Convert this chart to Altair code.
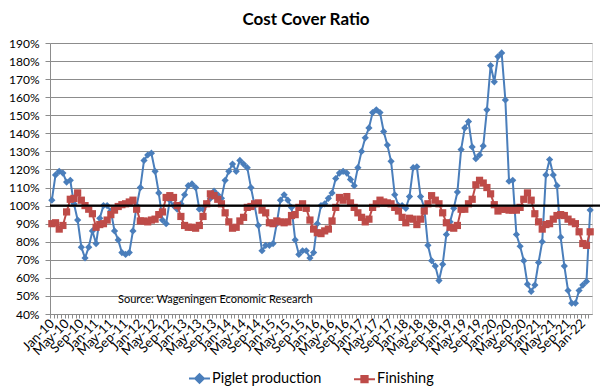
import altair as alt
import pandas as pd

series_names = ["Piglet production", "Finishing"]

piglet = [103, 117, 119, 118, 113, 114, 101, 92, 77, 71,
          77, 86, 79, 93, 100, 100, 97, 86, 81, 74,
          73, 74, 86, 100, 110, 125, 128, 129, 119, 107,
          92, 90, 103, 100, 98, 101, 106, 111, 112, 110,
          98, 98, 101, 104, 108, 106, 104, 114, 119, 123,
          119, 125, 123, 121, 110, 100, 89, 75, 78, 78,
          79, 90, 103, 106, 103, 99, 81, 73, 75, 75,
          71, 74, 90, 100, 101, 104, 107, 115, 118, 119,
          118, 114.5, 111, 121, 130, 137.5, 143, 151.5, 153, 151.5,
          141, 133.5, 124.5, 106, 100, 100, 98.5, 105, 121, 121.5,
          105, 99, 78, 69.5, 66.5, 58.5, 67.5, 84, 91, 98.5,
          107.5, 131, 143, 146.5, 132.5, 126, 128, 133, 153, 177.5,
          168.5, 182.5, 184.5, 158.5, 113.5, 114, 84, 77.5, 69.5, 56.5,
          52.5, 56, 68.5, 80, 117, 125.5, 117, 111, 82.5, 66.5,
          53, 46, 46, 53, 56, 58, 97.5]

finishing = [90, 90.5, 87, 89, 96.5, 103.5, 104, 107, 103, 100,
             98, 95.5, 88, 89.5, 90, 92, 95, 97.5, 99.5, 100.5,
             101, 102, 103, 98, 91.5, 91.5, 91, 92, 92.5, 95,
             96.5, 104.5, 105.5, 104.5, 100, 94, 89, 88, 88, 87.5,
             89, 94, 101, 106.5, 105.5, 103.5, 101, 96, 91, 87.5,
             88, 91.5, 93.5, 99, 99.5, 101, 101.5, 97.5, 96, 90.5,
             90, 91.5, 91, 90.5, 91, 94.5, 95, 99, 101, 98.5,
             92, 87, 85, 84.5, 86, 87, 91.5, 99, 104.5, 103,
             105, 101.5, 99, 96, 93.5, 91, 92.5, 99, 101, 103,
             102, 101.5, 101, 99, 97, 93.5, 90.5, 93, 92.5, 89.5,
             92.5, 97, 101, 105.5, 103, 101, 96, 90.5, 88, 87.5,
             89, 98, 98, 101, 103.5, 111.5, 114, 112.5, 110, 106.5,
             100.5, 97, 98, 98, 97.5, 97.5, 97.5, 99, 103.5, 107,
             103, 95.5, 91, 87, 89.5, 90, 92.5, 94.5, 95, 94.5,
             92.5, 91, 90, 85.5, 79, 78, 85.5]

tick_labels = ["Jan-10", "May-10", "Sep-10", "Jan-11", "May-11", "Sep-11",
               "Jan-12", "May-12", "Sep-12", "Jan-13", "May-13", "Sep-13",
               "Jan-14", "May-14", "Sep-14", "Jan-15", "May-15", "Sep-15",
               "Jan-16", "May-16", "Sep-16", "Jan-17", "May-17", "Sep-17",
               "Jan-18", "May-18", "Sep-18", "Jan-19", "May-19", "Sep-19",
               "Jan-20", "May-20", "Sep-20", "Jan-21", "May-21", "Sep-21",
               "Jan-22"]

y_ticks = [40, 50, 60, 70, 80, 90, 100, 110, 120, 130, 140, 150, 160, 170, 180, 190]
ref_level = 100
source_text = "Source: Wageningen Economic Research"

BLUE = "#4A7EBB"
RED = "#BE4B48"
GRAY = "#8C8C8C"
FONT = "Lato"

n = len(piglet)
df = pd.DataFrame({
    "idx": list(range(n)) + list(range(len(finishing))),
    "series": [series_names[0]] * n + [series_names[1]] * len(finishing),
    "value": piglet + finishing,
})

W, H = 542, 271
half = W / n / 2

label_js = "[" + ",".join("'" + t + "'" for t in tick_labels) + "]"

x_axis = alt.Axis(
    values=list(range(n)),
    labelExpr="datum.value % 4 === 0 ? " + label_js + "[datum.value / 4] : ''",
    labelAngle=315, labelAlign="right", labelBaseline="middle",
    labelOverlap=False, labelBound=False, labelFlush=False,
    labelFont=FONT, labelFontSize=13, labelColor="black",
    labelPadding=3, tickSize=4, tickColor=GRAY, domainColor=GRAY,
    tickOffset=-half, labelOffset=half,
    grid=False, title=None,
)
y_axis = alt.Axis(
    values=y_ticks, labelExpr="datum.value + '%'",
    labelOverlap=False, labelBound=False, labelFlush=False,
    grid=True, gridColor=GRAY, gridWidth=1,
    tickSize=5, tickColor=GRAY, domainColor=GRAY,
    labelFont=FONT, labelFontSize=12, labelColor="black", labelPadding=6,
    title=None,
)
x_scale = alt.Scale(domain=[-0.5, n - 0.5], nice=False, zero=False)
y_scale = alt.Scale(domain=[40, 190], nice=False, zero=False)

x_enc = alt.X("idx:Q", scale=x_scale, axis=x_axis)
y_enc = alt.Y("value:Q", scale=y_scale, axis=y_axis)

base = alt.Chart(df)

def line_layer(name, color):
    return base.transform_filter(alt.datum.series == name).mark_line(
        color=color, strokeWidth=2).encode(x=x_enc, y=y_enc)

def point_layer(name, color, shape):
    return base.transform_filter(alt.datum.series == name).mark_point(
        color=color, shape=shape, filled=True, opacity=1, size=52).encode(x=x_enc, y=y_enc)

leg = alt.Legend(
    title=None, orient="none", legendX=138, legendY=324, direction="horizontal",
    labelFont=FONT, labelFontSize=14.5, labelColor="black",
    symbolSize=440, symbolStrokeWidth=2, symbolOpacity=1,
    columnPadding=28, labelOffset=1,
)
diamond_path = "M-1,0H1M0,-0.42L0.42,0L0,0.42L-0.42,0Z"
square_path = "M-1,0H1M-0.3,-0.3H0.3V0.3H-0.3Z"

legend_layer = base.transform_filter("false").mark_point(filled=True).encode(
    x=x_enc, y=y_enc,
    color=alt.Color("series:N", scale=alt.Scale(domain=series_names, range=[BLUE, RED]), legend=leg),
    stroke=alt.Stroke("series:N", scale=alt.Scale(domain=series_names, range=[BLUE, RED]), legend=leg),
    shape=alt.Shape("series:N", scale=alt.Scale(domain=series_names, range=[diamond_path, square_path]), legend=leg),
)

ref_rule = alt.Chart(pd.DataFrame({"value": [ref_level]})).mark_rule(
    color="black", strokeWidth=2.2).encode(
    y=y_enc, x=alt.value(0), x2=alt.value(W + 11))

source = alt.Chart(pd.DataFrame({"t": [source_text]})).mark_text(
    font=FONT, fontSize=11, color="black", align="left", baseline="middle").encode(
    text="t:N", x=alt.value(68), y=alt.value(257))

chart = alt.layer(
    line_layer(series_names[0], BLUE),
    point_layer(series_names[0], BLUE, "diamond"),
    line_layer(series_names[1], RED),
    point_layer(series_names[1], RED, "square"),
    ref_rule,
    source,
    legend_layer,
).properties(
    width=W, height=H,
    title=alt.TitleParams("Cost Cover Ratio", font=FONT, fontSize=17, fontWeight="bold",
                          anchor="middle", color="black", offset=8, dx=-15),
    autosize=alt.AutoSizeParams(type="none"),
    padding={"left": 42, "top": 35, "right": 8, "bottom": 78},
).configure_view(stroke=None).configure(background="white")

chart.save("out.html", embed_options={"renderer": "svg", "actions": False})
